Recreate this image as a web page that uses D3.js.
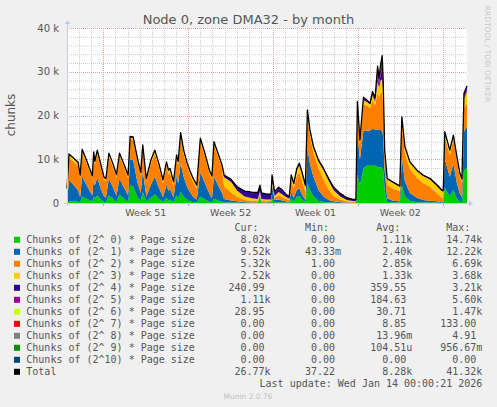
<!DOCTYPE html>
<html>
<head>
<meta charset="utf-8">
<script src="https://cdn.jsdelivr.net/npm/d3@7/dist/d3.min.js"></script>
<style>
body{margin:0;background:#f0f0f0;}
svg{display:block;}
</style>
</head>
<body>
<div id="chart"></div>
<script>
// sample times (2 h RRD steps, thinned)
var times = ["2025-12-12 00:00","2025-12-12 04:00","2025-12-12 14:00","2025-12-12 22:00","2025-12-13 02:00","2025-12-13 06:00","2025-12-13 14:00","2025-12-13 22:00","2025-12-14 02:00","2025-12-14 05:00",
 "2025-12-14 07:00","2025-12-14 12:00","2025-12-14 19:00","2025-12-15 01:00","2025-12-15 05:00","2025-12-15 11:00","2025-12-15 19:00","2025-12-16 02:00","2025-12-16 08:00","2025-12-16 17:00",
 "2025-12-17 01:00","2025-12-17 05:00","2025-12-17 11:00","2025-12-17 19:00","2025-12-18 02:00","2025-12-18 06:00","2025-12-18 13:00","2025-12-18 22:00","2025-12-19 06:00","2025-12-19 14:00",
 "2025-12-19 22:00","2025-12-20 05:00","2025-12-20 09:00","2025-12-20 12:00","2025-12-20 19:00","2025-12-21 01:00","2025-12-21 04:00","2025-12-21 09:00","2025-12-21 15:00","2025-12-21 22:00",
 "2025-12-22 04:00","2025-12-22 10:00","2025-12-22 17:00","2025-12-23 00:00","2025-12-23 09:00","2025-12-23 18:00","2025-12-23 23:00","2025-12-24 03:00","2025-12-24 11:00","2025-12-24 19:00",
 "2025-12-24 23:00","2025-12-25 13:00","2025-12-26 01:00","2025-12-26 16:00","2025-12-27 06:00","2025-12-27 18:00","2025-12-27 22:00","2025-12-28 01:00","2025-12-28 10:00","2025-12-28 20:00",
 "2025-12-28 22:00","2025-12-29 03:00","2025-12-29 11:00","2025-12-29 18:00","2025-12-30 00:00","2025-12-30 08:00","2025-12-30 12:00","2025-12-30 17:00","2025-12-30 23:00","2025-12-31 04:00",
 "2025-12-31 09:00","2025-12-31 16:00","2025-12-31 20:00","2026-01-01 01:00","2026-01-01 08:00","2026-01-01 18:00","2026-01-02 04:00","2026-01-02 14:00","2026-01-03 00:00","2026-01-03 13:00",
 "2026-01-04 02:00","2026-01-04 14:00","2026-01-04 20:00","2026-01-04 23:00","2026-01-05 04:00","2026-01-05 11:00","2026-01-05 18:00","2026-01-06 00:00","2026-01-06 05:00","2026-01-06 10:00",
 "2026-01-06 15:00","2026-01-06 18:00","2026-01-06 21:00","2026-01-07 00:00","2026-01-07 02:00","2026-01-07 05:00","2026-01-07 10:00","2026-01-07 20:00","2026-01-08 08:00","2026-01-08 11:00",
 "2026-01-08 15:00","2026-01-08 21:00","2026-01-09 07:00","2026-01-09 21:00","2026-01-10 09:00","2026-01-10 23:00","2026-01-11 13:00","2026-01-11 22:00","2026-01-12 01:00","2026-01-12 04:00",
 "2026-01-12 14:00","2026-01-12 21:00","2026-01-13 04:00","2026-01-13 10:00","2026-01-13 14:00","2026-01-13 18:00","2026-01-14 00:00"];

// values in k chunks
var order0 = [0,0.3,0.5,0.3,0.1,1.5,1.0,0.6,0.3,1.5, 1.0,1.8,0.8,0.3,0.2,1.8,1.0,0.3,2.0,1.0,
 0.3,4.0,3.8,1.5,0.4,2.5,0.3,1.2,2.0,1.0, 0.3,1.2,0.6,0.8,0.3,1.8,1.0,2.5,1.5,0.8,
 0.4,0.2,0.1,1.5,0.8,0.3,0.1,1.0,0.6,0.3, 0.1,0.1,0.1,0,0,0,1.5,0.1,0,0,
 1.0,0.2,0.2,0.1,0.1,0.1,1.0,0.4,1.5,1.6, 0.8,0.2,4.5,3.0,1.5,0.5,0.2,0.1,0.1,0,
 0,0,0,6.5,4.0,8.0,8.5,8.5,8.5,8.5, 8.3,8.2,8.2,8.0,7.5,3.0,0.3,0.1,0.1,0.1,
 4.0,1.5,0.5,0.2,0.1,0.1,0.1,0,0,3.5, 1.5,3.0,1.0,0.3,0.2,7.5,8.02];
var order1 = [0.2,5.0,3.5,2.6,1.2,4.5,3.3,2.0,1.4,4.2, 3.0,4.0,2.4,1.3,1.0,3.8,2.6,1.4,3.6,2.5,
 1.5,6.0,6.0,3.5,1.8,4.8,1.2,3.0,4.0,2.5, 1.0,3.0,2.2,2.4,1.0,4.5,3.5,6.5,4.5,2.8,
 2.0,1.2,0.7,5.5,3.8,1.8,1.0,5.0,3.5,2.0, 0.8,0.5,0.3,0.2,0.1,0.1,0.4,0.1,0.1,0.2,
 3.0,0.5,0.6,0.5,0.3,0.2,1.6,0.8,1.5,1.8, 1.2,0.5,8.0,6.0,4.5,2.5,1.3,0.6,0.3,0.2,
 0.1,0.05,0.05,9.0,6.0,8.5,8.0,8.0,8.5,8.3, 8.5,8.5,8.5,8.3,7.8,4.5,0.8,0.5,0.3,0.3,
 6.5,3.5,1.8,1.0,0.6,0.4,0.3,0.2,0.2,6.5, 4.5,6.0,3.5,1.8,1.2,8.8,9.52];
var order2 = [0.5,5.0,5.4,5.6,4.4,5.4,5.0,4.3,3.9,5.3, 4.8,5.6,4.9,3.8,3.8,5.1,4.7,4.1,5.1,4.6,
 4.0,4.6,4.7,4.9,4.2,5.4,3.5,4.8,5.3,4.7, 3.3,4.3,3.8,3.8,2.5,3.9,4.2,6.3,5.3,4.7,
 4.0,3.4,2.5,7.0,6.1,4.7,4.4,7.3,6.6,5.7, 3.0,1.8,1.0,0.5,0.4,0.3,0.3,0.3,0.3,0.3,
 0.8,0.5,0.9,0.8,0.6,0.4,2.6,2.2,3.3,3.6, 3.2,1.8,7.5,6.5,5.5,4.9,3.9,2.4,1.2,0.6,
 0.3,0.2,0.2,6.0,3.5,6.0,5.8,5.3,6.5,5.6, 8.5,7.5,8.5,9.0,7.7,3.5,3.0,2.8,2.4,2.3,
 7.5,6.3,5.5,4.6,3.9,3.2,1.8,1.0,1.0,5.0, 5.0,5.5,5.2,3.9,3.4,5.3,5.32];
var order3 = [1.6,0.7,0.6,0.6,0.5,0.7,0.5,0.4,0.4,0.5, 0.5,0.5,0.5,0.4,0.4,0.5,0.5,0.5,0.5,0.5,
 0.4,0.4,0.4,0.4,0.4,0.4,0.4,0.6,0.6,0.6, 0.5,0.7,0.7,0.7,0.9,0.6,0.6,0.6,0.6,0.6,
 0.6,0.6,0.6,0.6,0.5,0.5,0.5,0.5,0.5,0.5, 2.0,2.4,1.4,0.8,0.6,0.5,0.5,0.4,0.4,0.3,
 0.4,0.4,0.8,0.6,0.5,0.3,0.8,0.7,1.2,1.7, 1.6,1.2,1.0,0.9,1.1,1.6,2.1,2.0,1.3,0.7,
 0.3,0.2,0.15,1.2,0.6,1.0,0.8,0.7,1.0,0.8, 2.5,2.2,2.8,3.0,2.5,0.8,1.3,1.3,1.1,1.0,
 1.5,1.4,1.4,1.5,1.6,1.7,1.6,1.5,1.4,1.1, 0.9,0.8,0.7,0.6,0.5,2.3,2.52];
var order4 = [1.0,0.2,0.2,0.2,0.2,0.2,0.2,0.2,0.2,0.2, 0.2,0.2,0.2,0.2,0.2,0.2,0.2,0.2,0.2,0.2,
 0.2,0.2,0.2,0.2,0.2,0.2,0.2,0.2,0.2,0.2, 0.2,0.2,0.2,0.2,0.2,0.2,0.2,0.2,0.2,0.2,
 0.2,0.2,0.2,0.2,0.2,0.2,0.2,0.2,0.2,0.2, 0.5,0.6,0.9,1.2,1.4,1.5,1.4,1.4,1.3,1.2,
 1.2,0.8,0.8,0.8,0.6,0.4,0.4,0.4,0.4,0.4, 0.4,0.4,0.3,0.3,0.3,0.3,0.4,0.5,0.7,0.7,
 0.5,0.4,0.4,0.3,0.2,0.4,0.2,0.2,0.5,0.4, 1.2,0.8,1.4,2.0,1.2,0.2,0.2,0.2,0.2,0.2,
 0.2,0.2,0.2,0.2,0.2,0.2,0.3,0.3,0.3,0.2, 0.2,0.2,0.2,0.2,0.2,0.2,0.24];
var order5 = [0,0,0,0,0,0,0,0,0,0, 0,0,0,0,0,0,0,0,0,0,
 0,0,0,0,0,0,0,0,0,0, 0,0,0,0,0,0,0,0,0,0,
 0,0,0,0,0,0,0,0,0,0, 0,0,0,0,0,0,0,0,0,0,
 0,0.2,0.3,0.2,0.1,0,0,0,0,0, 0,0,0,0,0,0,0,0,0,0,
 0,0,0,0.2,0.1,0.3,0.2,0.1,0.5,0.4, 2.0,1.2,2.0,2.8,1.3,0.1,0,0,0,0,
 0,0,0,0,0,0,0,0,0,0, 0,0,0,0,0,1.0,1.11];
var order6 = [0,0,0,0,0,0,0,0,0,0, 0,0,0,0,0,0,0,0,0,0,
 0,0,0,0,0,0,0,0,0,0, 0,0,0,0,0,0,0,0,0,0,
 0,0,0,0,0,0,0,0,0,0, 0,0,0,0,0,0,0,0,0,0,
 0,0,0,0,0,0,0,0,0,0, 0,0,0,0,0,0,0,0,0,0,
 0,0,0,0,0,0,0,0,0,0, 0.3,0.2,0.3,0.6,0.3,0,0,0,0,0,
 0,0,0,0,0,0,0,0,0,0, 0,0,0,0,0,0,0.03];

// legend
var labels = ["Chunks of (2^ 0) * Page size","Chunks of (2^ 1) * Page size","Chunks of (2^ 2) * Page size","Chunks of (2^ 3) * Page size",
 "Chunks of (2^ 4) * Page size","Chunks of (2^ 5) * Page size","Chunks of (2^ 6) * Page size","Chunks of (2^ 7) * Page size",
 "Chunks of (2^ 8) * Page size","Chunks of (2^ 9) * Page size","Chunks of (2^10) * Page size","Total"];
var colors = ["#00cc00","#0066b3","#ff8000","#ffcc00","#330099","#990099","#ccff00","#ff0000","#808080","#008f00","#00487d","#000000"];
var curVals = ["8.02k","9.52k","5.32k","2.52k","240.99","1.11k","28.95","0.00","0.00","0.00","0.00","26.77k"];
var minVals = ["0.00","43.33m","1.00","0.00","0.00","0.00","0.00","0.00","0.00","0.00","0.00","37.22"];
var avgVals = ["1.11k","2.40k","2.85k","1.33k","359.55","184.63","30.71","8.85","13.96m","104.51u","0.00","8.28k"];
var maxVals = ["14.74k","12.22k","6.69k","3.68k","3.21k","5.60k","1.47k","133.00","4.91","956.67m","0.00","41.32k"];
var yTicks = [0,10000,20000,30000,40000];

function init(){
    var W = 497, H = 407;
    var L = 67, R = 467, T = 28, B = 203;
    var svg = d3.select("#chart").append("svg").attr("width", W).attr("height", H);
    var txtCol = "#555";

    var parse = d3.timeParse("%Y-%m-%d %H:%M");
    var start = parse("2025-12-12 00:00"), end = parse("2026-01-14 00:00");
    var x = d3.scaleTime().domain([start, end]).range([L, R]);
    var y = d3.scaleLinear().domain([0, 40000]).range([B, T]);

    // build rows for stacking
    var series = [order0, order1, order2, order3, order4, order5, order6];
    var keys = series.map((s,i)=>"s"+i);
    var rows = times.map(function(t,i){
        var r = {date: parse(t)};
        series.forEach((s,k)=>{ r["s"+k] = s[i]*1000; });
        return r;
    });

    // plot canvas
    svg.append("rect").attr("x", L).attr("y", T).attr("width", R-L).attr("height", B-T).attr("fill", "#fff");

    // grid: minor
    var g = svg.append("g");
    d3.range(2000, 40001, 2000).filter(v=>v%10000!=0).forEach(function(v){
        g.append("line").attr("x1",L).attr("x2",R).attr("y1",y(v)+0.5).attr("y2",y(v)+0.5)
         .attr("stroke","#cfcfcf").attr("stroke-dasharray","1,1");
    });
    d3.timeDay.range(start, end).slice(1).forEach(function(d){
        g.append("line").attr("x1",Math.round(x(d))+0.5).attr("x2",Math.round(x(d))+0.5).attr("y1",T).attr("y2",B)
         .attr("stroke","#cfcfcf").attr("stroke-dasharray","1,1");
    });
    // grid: major
    yTicks.filter(v=>v>0).forEach(function(v){
        g.append("line").attr("x1",L).attr("x2",R).attr("y1",Math.round(y(v))+0.5).attr("y2",Math.round(y(v))+0.5)
         .attr("stroke","#e8a0a0").attr("stroke-dasharray","1,1");
    });
    var mondays = d3.timeMonday.range(start, end);
    mondays.forEach(function(d){
        g.append("line").attr("x1",Math.round(x(d))+0.5).attr("x2",Math.round(x(d))+0.5).attr("y1",T).attr("y2",B)
         .attr("stroke","#e8a0a0").attr("stroke-dasharray","1,1");
    });

    // stacked areas
    var stacked = d3.stack().keys(keys)(rows);
    var area = d3.area().x(d=>x(d.data.date)).y0(d=>y(d[0])).y1(d=>y(d[1]));
    svg.append("g").selectAll("path").data(stacked).enter().append("path")
        .attr("d", area).attr("fill", (d,i)=>colors[i]);

    // total line
    var line = d3.line().x(d=>x(d.date)).y(d=>y(d3.sum(keys, k=>d[k])));
    svg.append("path").datum(rows).attr("d", line).attr("fill","none")
        .attr("stroke","#000").attr("stroke-width",1.3).attr("stroke-linejoin","round");

    // axes
    var axisCol = "#c4c8f4";
    svg.append("line").attr("x1",L-3).attr("x2",R+2).attr("y1",B+0.5).attr("y2",B+0.5).attr("stroke",axisCol);
    svg.append("line").attr("x1",L+0.5).attr("x2",L+0.5).attr("y1",T-4).attr("y2",B+3).attr("stroke",axisCol);
    svg.append("path").attr("d","M"+(R+2)+","+(B-2.5)+"L"+(R+6)+","+(B+0.5)+"L"+(R+2)+","+(B+3.5)+"Z").attr("fill",axisCol);
    svg.append("path").attr("d","M"+(L-2.5)+","+(T-4)+"L"+(L+0.5)+","+(T-8)+"L"+(L+3.5)+","+(T-4)+"Z").attr("fill",axisCol);

    var tickCol = "#aaaaaa";
    mondays.forEach(function(d){
        svg.append("line").attr("x1",Math.round(x(d))+0.5).attr("x2",Math.round(x(d))+0.5)
            .attr("y1",B+1).attr("y2",B+3).attr("stroke",tickCol);
    });

    // y labels
    svg.append("g").selectAll("text").data(yTicks).enter().append("text")
        .attr("x", 59).attr("y", d=>y(d)+3.5).attr("text-anchor","end")
        .style("font-family","DejaVu Sans").style("font-size","10px").attr("fill",txtCol)
        .text(d=>d==0 ? "0" : (d/1000)+" k");

    // week labels, centred in each week (only weeks whose middle is on the graph)
    var weekMids = mondays.map(d=>d3.timeHour.offset(d, 84)).filter(d=>d < end);
    svg.append("g").selectAll("text").data(weekMids).enter().append("text")
        .attr("x", d=>x(d)).attr("y", 216)
        .attr("text-anchor","middle")
        .style("font-family","DejaVu Sans").style("font-size","9.5px").attr("fill",txtCol)
        .text(d=>d3.timeFormat("Week %V")(d));

    // titles
    svg.append("text").attr("x",248.5).attr("y",23.5).attr("text-anchor","middle")
        .style("font-family","DejaVu Sans").style("font-size","13px").attr("fill",txtCol)
        .text("Node 0, zone DMA32 - by month");
    svg.append("text").attr("transform","translate(15,115) rotate(-90)").attr("text-anchor","middle")
        .style("font-family","DejaVu Sans").style("font-size","12px").attr("fill",txtCol)
        .text("chunks");
    svg.append("text").attr("transform","translate(485,54) rotate(90)").attr("text-anchor","middle")
        .style("font-family","DejaVu Sans").style("font-size","7.5px").attr("fill","#c8c8c8")
        .text("RRDTOOL / TOBI OETIKER");

    // legend
    var mono = "DejaVu Sans Mono", cw = 6.02;
    var colStart = [228.5, 299, 370.2, 440.2];
    var heads = ["Cur:","Min:","Avg:","Max:"];
    heads.forEach(function(h,i){
        svg.append("text").attr("x", colStart[i]+cw).attr("y", 231)
            .style("font-family",mono).style("font-size","10px").attr("fill",txtCol).text(h);
    });
    var cols = [curVals, minVals, avgVals, maxVals];
    labels.forEach(function(lab,i){
        var cy = 239.3 + 12*i;
        svg.append("rect").attr("x",14).attr("y",cy-2.5).attr("width",6).attr("height",6).attr("fill",colors[i]);
        svg.append("text").attr("x",26.3).attr("y",cy+3.5)
            .style("font-family",mono).style("font-size","10px").attr("fill",txtCol).text(lab);
        cols.forEach(function(c,j){
            var v = c[i];
            var suffix = /[kmu]$/.test(v);
            svg.append("text").attr("x", colStart[j] + 7*cw - (suffix ? 0 : cw)).attr("y", cy+3.5)
                .attr("text-anchor","end")
                .style("font-family",mono).style("font-size","10px").attr("fill",txtCol).text(v);
        });
    });
    svg.append("text").attr("x",482.3).attr("y",387).attr("text-anchor","end")
        .style("font-family",mono).style("font-size","10px").attr("fill",txtCol)
        .text("Last update: Wed Jan 14 00:00:21 2026");
    svg.append("text").attr("x",248).attr("y",399).attr("text-anchor","middle")
        .style("font-family","DejaVu Sans").style("font-size","7.5px").attr("fill","#c0c0c0")
        .text("Munin 2.0.76");
}
window.onload = init;
</script>
</body>
</html>
